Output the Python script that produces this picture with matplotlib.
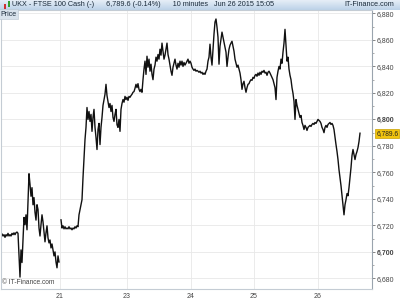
import numpy as np
import matplotlib
matplotlib.use("Agg")
import matplotlib.pyplot as plt
from matplotlib.ticker import MultipleLocator, FuncFormatter

plt.rcParams["font.family"] = ["Liberation Sans", "DejaVu Sans"]

# 10-minute closes, one per bar (nan = session break)
prices = [
    6711.4, 6713.6, 6712.0, 6713.0, 6711.0, 6713.0, 6712.0, 6714.0, 6712.0, 6713.0,
    6712.0, 6714.0, 6713.0, 6714.4, 6713.0, 6714.5, 6715.0, 6714.0, 6698.0, 6681.0,
    6701.5, 6692.0, 6709.0, 6726.0, 6720.5, 6728.0, 6716.7, 6739.0, 6759.0, 6751.0,
    6742.0, 6748.5, 6735.6, 6741.0, 6730.0, 6724.0, 6735.6, 6732.0, 6718.0, 6712.0,
    6720.5, 6728.0, 6722.7, 6715.0, 6707.6, 6714.4, 6719.7, 6710.6, 6706.8, 6709.0,
    6703.0, 6706.0, 6701.5, 6697.0, 6700.0, 6692.4, 6688.0, 6697.0, 6692.4, np.nan,
    6724.2, 6718.0, 6719.7, 6717.4, 6719.0, 6717.4, 6718.0, 6717.4, 6719.0, 6717.4,
    6718.0, 6716.7, 6718.0, 6717.4, 6719.0, 6718.0, 6719.7, 6719.0, 6728.0, 6732.0,
    6735.6, 6739.4, 6756.0, 6769.7, 6784.8, 6794.0, 6809.0, 6800.0, 6806.0, 6798.5,
    6803.8, 6791.0, 6801.5, 6807.6, 6794.0, 6786.4, 6777.3, 6792.4, 6797.0, 6781.0,
    6794.0, 6801.5, 6810.6, 6815.0, 6819.0, 6826.5, 6818.0, 6813.6, 6809.0, 6812.0,
    6806.0, 6810.6, 6801.5, 6798.5, 6803.8, 6807.6, 6796.0, 6794.0, 6800.0, 6791.0,
    6807.6, 6812.0, 6815.0, 6813.0, 6817.4, 6815.0, 6816.7, 6814.4, 6817.4, 6816.7,
    6818.0, 6819.0, 6820.5, 6821.0, 6823.5, 6826.5, 6824.0, 6827.0, 6822.7, 6821.0,
    6822.7, 6820.5, 6830.0, 6838.0, 6844.0, 6834.0, 6847.7, 6839.4, 6845.5, 6836.4,
    6841.7, 6834.0, 6830.0, 6838.0, 6841.0, 6847.0, 6844.0, 6849.0, 6845.5, 6853.0,
    6848.5, 6857.6, 6851.5, 6845.5, 6848.5, 6853.0, 6857.6, 6849.0, 6845.5, 6841.0,
    6836.4, 6833.3, 6839.4, 6842.4, 6845.5, 6841.0, 6838.0, 6842.4, 6839.4, 6844.0,
    6841.0, 6844.0, 6840.0, 6843.0, 6841.0, 6842.4, 6844.0, 6845.5, 6842.4, 6844.0,
    6842.4, 6839.4, 6838.0, 6837.0, 6838.0, 6836.4, 6837.0, 6836.4, 6835.6, 6836.4,
    6835.0, 6835.6, 6834.0, 6835.0, 6834.0, 6836.4, 6838.0, 6844.0, 6847.0, 6856.8,
    6847.0, 6841.0, 6853.0, 6864.4, 6873.5, 6875.8, 6869.7, 6862.0, 6841.7, 6855.3,
    6860.6, 6865.9, 6862.0, 6858.3, 6854.5, 6850.8, 6840.0, 6847.0, 6853.0, 6856.0,
    6857.6, 6859.0, 6855.3, 6851.5, 6845.5, 6842.4, 6839.4, 6841.0, 6838.0, 6835.0,
    6830.0, 6822.7, 6827.0, 6828.8, 6824.0, 6820.5, 6824.0, 6826.5, 6827.0, 6828.8,
    6830.0, 6829.5, 6831.8, 6831.0, 6833.3, 6834.0, 6832.6, 6835.0, 6833.3, 6835.6,
    6834.0, 6836.4, 6835.6, 6837.0, 6835.0, 6835.6, 6833.3, 6835.6, 6836.4, 6835.0,
    6833.3, 6831.8, 6830.0, 6827.0, 6824.0, 6815.0, 6831.8, 6836.4, 6840.0, 6838.0,
    6845.5, 6842.4, 6850.8, 6857.6, 6868.0, 6856.0, 6844.0, 6847.0, 6838.0, 6833.3,
    6830.0, 6824.0, 6819.7, 6813.6, 6800.0, 6815.0, 6810.6, 6807.6, 6804.5, 6801.5,
    6803.0, 6797.7, 6795.5, 6792.4, 6795.5, 6794.0, 6791.7, 6794.0, 6794.7, 6795.5,
    6794.7, 6796.2, 6797.0, 6796.2, 6797.7, 6797.0, 6798.5, 6800.0, 6799.2, 6798.5,
    6797.0, 6794.0, 6792.4, 6790.0, 6794.0, 6795.5, 6794.0, 6796.2, 6797.0, 6797.7,
    6796.2, 6797.0, 6795.5, 6792.4, 6786.4, 6781.0, 6775.8, 6769.7, 6762.0, 6756.0,
    6750.0, 6742.4, 6735.0, 6728.0, 6735.6, 6739.4, 6744.0, 6742.4, 6748.5, 6756.0,
    6763.6, 6772.7, 6777.3, 6773.5, 6769.7, 6773.5, 6775.8, 6778.8, 6783.3, 6789.6,
]
bars = np.arange(1, len(prices) + 1)

day_labels = ["21", "23", "24", "25", "26"]
day_bars = [60, 127, 191, 254, 318]
last_price = 6789.6

fig = plt.figure(figsize=(4, 3), dpi=100)
fig.patch.set_facecolor("white")

# header bar
hax = fig.add_axes([0, 1 - 10 / 300, 1, 10 / 300])
grad = np.linspace(0, 1, 50).reshape(-1, 1)
hax.imshow(grad, aspect="auto", cmap=matplotlib.colors.LinearSegmentedColormap.from_list(
    "hdr", ["#e6eef7", "#bcd2e8"]), extent=[0, 1, 0, 1])
hax.set_axis_off()
hax.bar([0.012], [0.5], width=0.006, bottom=0.15, color="#d03030")
hax.bar([0.022], [0.6], width=0.006, bottom=0.3, color="#30a030")
fig.text(0.03, 1 - 5 / 300, "UKX - FTSE 100 Cash (-)      6,789.6 (-0.14%)      10 minutes   Jun 26 2015 15:05",
         fontsize=5.2, color="#1a2a3a", va="center", ha="left")
fig.text(0.985, 1 - 5 / 300, "IT-Finance.com", fontsize=5.2, color="#1a2a3a",
         va="center", ha="right")

ax = fig.add_axes([1 / 400, 11 / 300, 371 / 400, 279 / 300])
ax.plot(bars, prices, color="#111111", lw=1.0)

ax.set_xlim(1, 372)
ax.set_ylim(6672, 6882.6)
ax.yaxis.tick_right()
ax.yaxis.set_major_locator(MultipleLocator(20))
ax.yaxis.set_minor_locator(MultipleLocator(10))
ax.yaxis.set_major_formatter(FuncFormatter(lambda v, p: f"{v:,.0f}"))
ax.set_xticks(day_bars)
ax.set_xticklabels(day_labels)
ax.tick_params(axis="y", which="major", labelsize=5, length=2.5, width=0.5,
               colors="#555555", labelcolor="#444444", pad=1)
ax.tick_params(axis="y", which="minor", length=1.5, width=0.5, colors="#888888")
ax.tick_params(axis="x", labelsize=5, length=0, labelcolor="#444444", pad=3)
for lab, val in zip(ax.get_yticklabels(), ax.get_yticks()):
    if abs(val % 100) < 1e-6:
        lab.set_fontweight("bold")

ax.grid(True, color="#e8e8e8", lw=0.6)
ax.set_axisbelow(True)
for s in ax.spines.values():
    s.set_color("#c4ccd4")
    s.set_linewidth(0.8)
ax.spines["right"].set_color("#9aa4ae")

ax.annotate("6,789.6", xy=(1, last_price), xycoords=("axes fraction", "data"),
            xytext=(3, 0), textcoords="offset points", fontsize=4.8, color="#222222",
            va="center", ha="left",
            bbox=dict(boxstyle="square,pad=0.15", fc="#f1c40f", ec="#c8a000", lw=0.5))

fig.text(0.002, 1 - 14 / 300, "Price", fontsize=5, color="#1a2a3a", va="center",
         ha="left", bbox=dict(boxstyle="square,pad=0.2", fc="#d8e2ec", ec="#b8c4d0", lw=0.4))
ax.text(0.003, 0.012, "© IT-Finance.com", transform=ax.transAxes, fontsize=4.8,
        color="#444444", va="bottom", ha="left")

fig.savefig("out.png", dpi=100)
